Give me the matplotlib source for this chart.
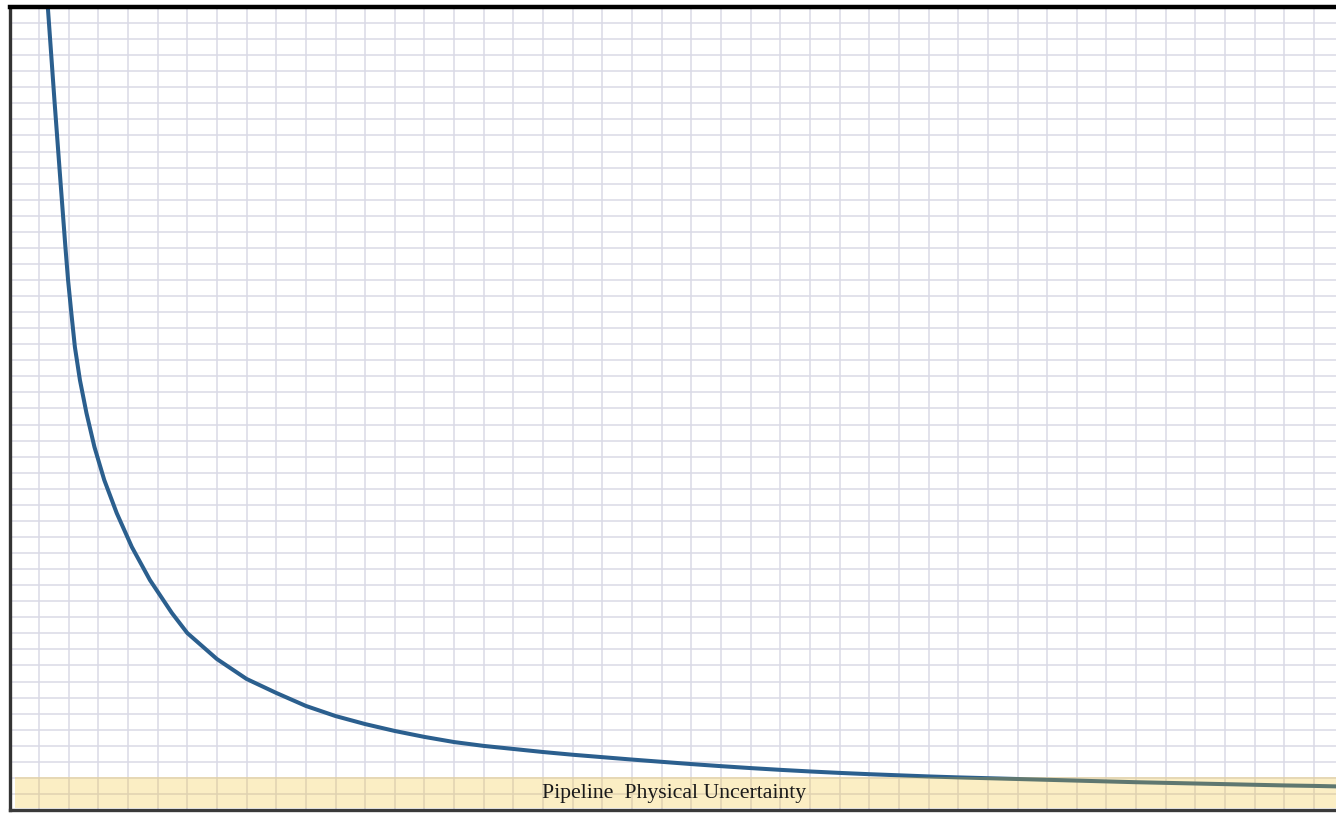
import matplotlib.pyplot as plt
from matplotlib.ticker import MultipleLocator

# Curve values (grid units: x = columns from left border, y = rows from bottom)
curve_x = [1.29, 1.52, 1.72, 1.89, 1.98, 2.09, 2.21, 2.38, 2.60, 2.87, 3.20, 3.62,
           4.13, 4.74, 5.48,
           6, 7, 8, 9, 10, 11, 12, 13, 14, 15, 16, 17, 18, 19, 20, 21, 22, 23, 24,
           25, 26, 27, 28, 29, 30, 31, 32, 33, 34, 35, 36, 37, 38, 39, 40, 41, 42,
           43, 44, 44.74]
curve_y = [50.19, 44.21, 39.23, 35.06, 33.00, 30.95, 28.83, 26.77, 24.72, 22.60,
           20.55, 18.49, 16.38, 14.32, 12.27,
           11.02, 9.40, 8.16, 7.29, 6.48, 5.85, 5.35, 4.92, 4.55, 4.23, 3.99, 3.80,
           3.61, 3.44, 3.29, 3.14, 3.00, 2.86, 2.73, 2.61, 2.50, 2.40, 2.31, 2.23,
           2.16, 2.09, 2.03, 1.98, 1.93, 1.88, 1.83, 1.78, 1.73, 1.69, 1.65, 1.61,
           1.57, 1.53, 1.50, 1.47]

band_label = "Pipeline  Physical Uncertainty"
band_range = [0.12, 2.05]

W, H = 1336, 815
fig = plt.figure(figsize=(W / 100, H / 100), dpi=100)
left_px, right_px, top_px, bottom_px = 9.5, 1336, 6.5, 810
ax = fig.add_axes([left_px / W, (H - bottom_px) / H,
                   (right_px - left_px) / W, (bottom_px - top_px) / H])
ax.set_xlim(0.005, 44.74)
ax.set_ylim(0, 50.03)

ax.xaxis.set_major_locator(MultipleLocator(1))
ax.yaxis.set_major_locator(MultipleLocator(1))
ax.grid(True, color='#dadae6', linewidth=1.1, zorder=0)
ax.set_axisbelow(True)
ax.tick_params(left=False, bottom=False, labelleft=False, labelbottom=False)

ax.plot(curve_x, curve_y, color='#2b5f8e', linewidth=2.9, solid_capstyle='round',
        solid_joinstyle='round', zorder=2)

ax.axhspan(band_range[0], band_range[1], xmin=0.2 / 44.74, xmax=1.0,
           facecolor='#f2be1b', alpha=0.26, edgecolor='none', zorder=3)
ax.text(22.43, (band_range[0] + band_range[1]) / 2 - 0.05, band_label,
        ha='center', va='center', fontsize=15.7, family='Liberation Serif',
        color='#1a1a1a', zorder=4)

ax.spines['right'].set_visible(False)
ax.spines['top'].set_color('#000000')
ax.spines['top'].set_linewidth(3.2)
ax.spines['left'].set_color('#333333')
ax.spines['left'].set_linewidth(2.4)
ax.spines['bottom'].set_color('#3a3a3a')
ax.spines['bottom'].set_linewidth(2.4)

fig.savefig('out.png', dpi=100)
